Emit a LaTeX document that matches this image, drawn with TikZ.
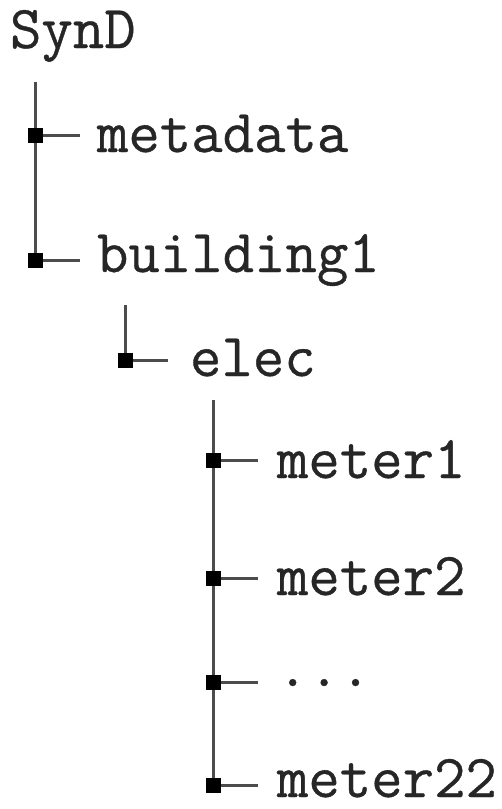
\documentclass[tikz,border=0pt]{standalone}
\usepackage{fontspec}
\setmonofont[FakeBold=0.6]{Latin Modern Mono}
\tikzset{
  lbl/.style={anchor=base west, inner sep=0pt, outer sep=0pt, font=\fontsize{61}{62}\selectfont\ttfamily, text=black!85},
  sq/.style={fill=black, draw=none, minimum size=15pt, inner sep=0pt, outer sep=0pt},
  trunk/.style={draw=black!70, line width=3pt},
  stub/.style={draw=black!70, line width=3pt}
}
\begin{document}
\begin{tikzpicture}[x=1pt,y=-1pt]
\useasboundingbox (0,0) rectangle (502,809);
% labels
\node[lbl] (synd) at (10,48) {SynD};
\node[lbl] (meta) at (97,152) {metadata};
\node[lbl] (bld) at (97,272) {building1};
\node[lbl] (elec) at (190,376) {elec};
\node[lbl] (m1) at (277,478) {meter1};
\node[lbl] (m2) at (277,595) {meter2};
\node[lbl] (dots) at (277,686) {...};
\node[lbl] (m22) at (277,797) {meter22};
% level 1
\coordinate (t1) at (35,82);
\node[sq] (s1) at (35,135) {};
\node[sq] (s2) at (35,260) {};
\coordinate (h1) at (80,135);
\coordinate (h2) at (80,260);
\draw[trunk] (t1) -- (s2.center);
\draw[stub] (s1.center) -- (h1);
\draw[stub] (s2.center) -- (h2);
% level 2
\coordinate (t2) at (125,305);
\node[sq] (s3) at (125,360) {};
\coordinate (h3) at (168,360);
\draw[trunk] (t2) -- (s3.center);
\draw[stub] (s3.center) -- (h3);
% level 3
\coordinate (t3) at (213,400);
\node[sq] (s4) at (213,460) {};
\node[sq] (s5) at (213,578) {};
\node[sq] (s6) at (213,682) {};
\node[sq] (s7) at (213,785) {};
\coordinate (h4) at (258,460);
\coordinate (h5) at (258,578);
\coordinate (h6) at (258,682);
\coordinate (h7) at (258,785);
\draw[trunk] (t3) -- (s7.center);
\draw[stub] (s4.center) -- (h4);
\draw[stub] (s5.center) -- (h5);
\draw[stub] (s6.center) -- (h6);
\draw[stub] (s7.center) -- (h7);
% redraw squares on top
\foreach \s in {s1,s2,s3,s4,s5,s6,s7} \fill (\s.south west) rectangle (\s.north east);
\end{tikzpicture}
\end{document}
